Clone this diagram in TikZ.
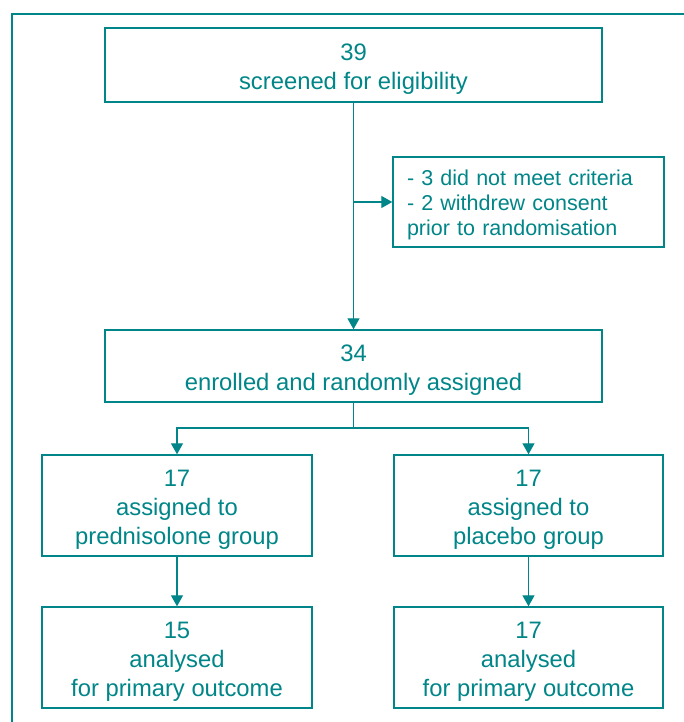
\documentclass[tikz,border=0pt]{standalone}
\usepackage{fontspec}
\setmainfont{Liberation Sans}
\usetikzlibrary{arrows.meta}
\definecolor{tealc}{RGB}{0,134,136}
\begin{document}
\begin{tikzpicture}[x=1pt,y=-1pt,
  box/.style={draw=tealc, line width=1.4pt, fill=white, inner sep=0pt},
  txt/.style={text=tealc, inner sep=0pt, align=center, yshift=-4pt,
    font=\fontsize{23.8}{29}\selectfont},
  sidetxt/.style={text=tealc, inner sep=0pt, align=left, yshift=-3pt, text width=243pt,
    font=\fontsize{21.5}{25}\selectfont},
  conn/.style={draw=tealc, line width=1.2pt},
  arr/.style={conn, -{Triangle[length=11pt,width=12pt]}}]
\useasboundingbox (0,0) rectangle (683,722);
% outer frame
\draw[draw=tealc, line width=1.4pt] (12,730) -- (12,14) -- (690,14);
% boxes
\node[box, minimum width=497pt, minimum height=74pt] (screen) at (353.5,65) {};
\node[box, minimum width=271pt, minimum height=90pt] (excl) at (528.5,202) {};
\node[box, minimum width=497pt, minimum height=72pt] (enrol) at (353.5,366) {};
\node[box, minimum width=270pt, minimum height=101pt] (predA) at (177,505.5) {};
\node[box, minimum width=269pt, minimum height=101pt] (placA) at (528.5,505.5) {};
\node[box, minimum width=270pt, minimum height=101pt] (predB) at (177,657.5) {};
\node[box, minimum width=269pt, minimum height=101pt] (placB) at (528.5,657.5) {};
% texts
\node[txt] (screenT) at (screen.center) {39\\screened for eligibility};
\node[sidetxt] (exclT) at (excl.center) {- 3 did not meet criteria\\- 2 withdrew consent\\prior to randomisation};
\node[txt] (enrolT) at (enrol.center) {34\\enrolled and randomly assigned};
\node[txt] (predAT) at (predA.center) {17\\assigned to\\prednisolone group};
\node[txt] (placAT) at (placA.center) {17\\assigned to\\placebo group};
\node[txt] (predBT) at (predB.center) {15\\analysed\\for primary outcome};
\node[txt] (placBT) at (placB.center) {17\\analysed\\for primary outcome};
% connectors
\coordinate (br) at (353.5,202);
\coordinate (split) at (353.5,428);
\draw[arr] (screen.south) -- (enrol.north);
\draw[arr] (br) -- (excl.west);
\draw[conn] (enrol.south) -- (split);
\draw[arr] (split) -| (predA.north);
\draw[arr] (split) -| (placA.north);
\draw[arr] (predA.south) -- (predB.north);
\draw[arr] (placA.south) -- (placB.north);
\end{tikzpicture}
\end{document}
